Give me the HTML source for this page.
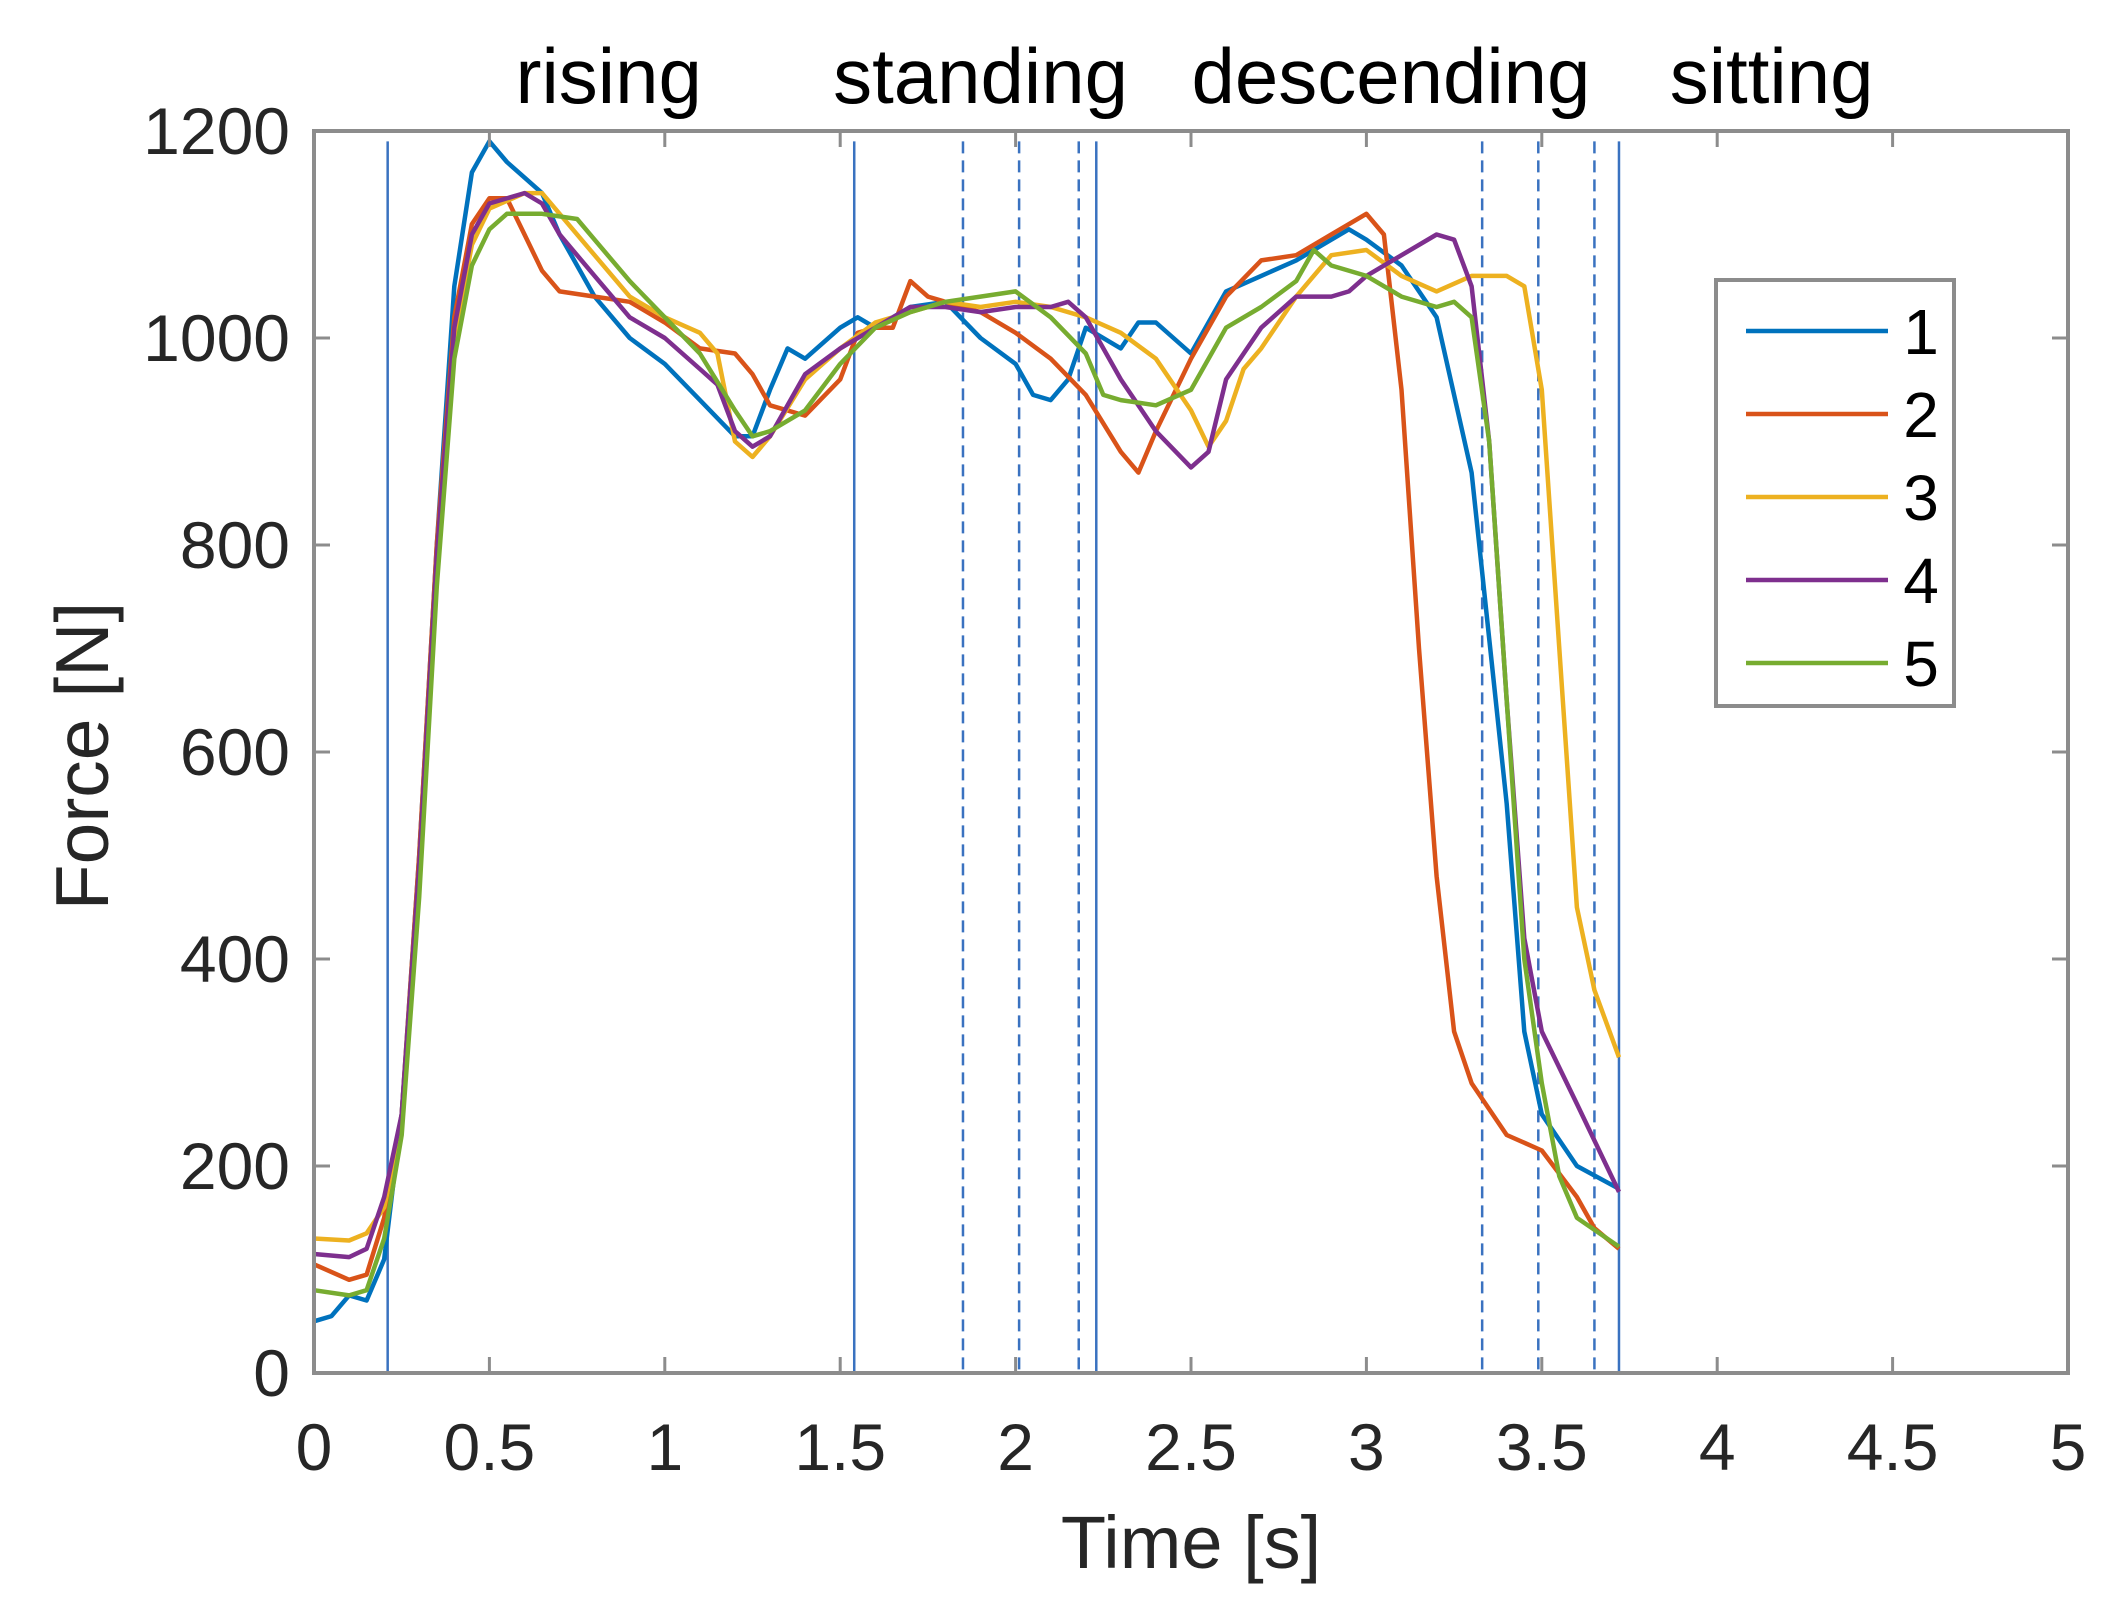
<!DOCTYPE html>
<html><head><meta charset="utf-8"><style>
html,body{margin:0;padding:0;background:#fff}
svg{display:block}
text{font-family:"Liberation Sans",sans-serif}
</style></head><body>
<svg id="chart" width="2111" height="1617" viewBox="0 0 2111 1617" xmlns="http://www.w3.org/2000/svg">
<g id="grid"></g>
<g id="marks"></g>
<g id="axes"></g>
</svg>
<script>
const xTicks=[0,0.5,1,1.5,2,2.5,3,3.5,4,4.5,5];
const xTickLabels=["0","0.5","1","1.5","2","2.5","3","3.5","4","4.5","5"];
const yTicks=[0,200,400,600,800,1000,1200];
const yTickLabels=["0","200","400","600","800","1000","1200"];
const phaseLabels=["rising","standing","descending","sitting"];
const phaseCenters=[0.84,1.9,3.07,4.155];
const solidEvents=[0.21,1.54,2.23,3.72];
const dashedEvents=[1.85,2.01,2.18,3.33,3.49,3.65];
const seriesNames=["1","2","3","4","5"];
const t1=[0,0.05,0.1,0.15,0.2,0.25,0.3,0.35,0.4,0.45,0.5,0.55,0.6,0.65,0.7,0.8,0.9,1.0,1.1,1.2,1.25,1.3,1.35,1.4,1.5,1.55,1.6,1.7,1.8,1.9,2.0,2.05,2.1,2.15,2.2,2.3,2.35,2.4,2.5,2.6,2.7,2.8,2.9,2.95,3.0,3.1,3.2,3.3,3.4,3.45,3.5,3.6,3.72];
const v1=[50,55,75,70,110,250,500,800,1050,1160,1190,1170,1155,1140,1100,1040,1000,975,940,905,905,950,990,980,1010,1020,1010,1030,1035,1000,975,945,940,960,1010,990,1015,1015,985,1045,1060,1075,1095,1105,1095,1070,1020,870,550,330,250,200,178];
const t2=[0,0.1,0.15,0.2,0.25,0.3,0.35,0.4,0.45,0.5,0.55,0.6,0.65,0.7,0.8,0.9,1.0,1.1,1.2,1.25,1.3,1.4,1.5,1.55,1.6,1.65,1.7,1.75,1.8,1.9,2.0,2.1,2.2,2.3,2.35,2.4,2.5,2.6,2.7,2.8,2.9,3.0,3.05,3.1,3.15,3.2,3.25,3.3,3.4,3.5,3.6,3.65,3.72];
const v2=[105,90,95,150,250,500,800,1020,1110,1135,1135,1100,1065,1045,1040,1035,1015,990,985,965,935,925,960,1005,1010,1010,1055,1040,1035,1025,1005,980,945,890,870,910,980,1040,1075,1080,1100,1120,1100,950,700,480,330,280,230,215,170,140,120];
const t3=[0,0.1,0.15,0.2,0.25,0.3,0.35,0.4,0.45,0.5,0.6,0.65,0.7,0.8,0.9,1.0,1.1,1.15,1.2,1.25,1.3,1.4,1.5,1.6,1.7,1.8,1.9,2.0,2.1,2.2,2.3,2.4,2.5,2.55,2.6,2.65,2.7,2.8,2.9,3.0,3.1,3.2,3.3,3.4,3.45,3.5,3.55,3.6,3.65,3.72];
const v3=[130,128,135,160,240,480,780,1000,1090,1125,1140,1140,1120,1080,1040,1020,1005,985,900,885,905,960,990,1015,1025,1035,1030,1035,1030,1020,1005,980,930,895,920,970,990,1040,1080,1085,1060,1045,1060,1060,1050,950,700,450,370,305];
const t4=[0,0.1,0.15,0.2,0.25,0.3,0.35,0.4,0.45,0.5,0.6,0.65,0.7,0.8,0.9,1.0,1.1,1.15,1.2,1.25,1.3,1.4,1.5,1.6,1.7,1.8,1.9,2.0,2.1,2.15,2.2,2.3,2.4,2.5,2.55,2.6,2.7,2.8,2.9,2.95,3.0,3.1,3.2,3.25,3.3,3.35,3.4,3.45,3.5,3.6,3.72];
const v4=[115,112,120,170,250,490,790,1010,1100,1130,1140,1130,1100,1060,1020,1000,970,955,910,895,905,965,990,1010,1030,1030,1025,1030,1030,1035,1020,960,910,875,890,960,1010,1040,1040,1045,1060,1080,1100,1095,1050,900,650,420,330,260,175];
const t5=[0,0.1,0.15,0.2,0.25,0.3,0.35,0.4,0.45,0.5,0.55,0.65,0.75,0.8,0.9,1.0,1.1,1.2,1.25,1.3,1.4,1.5,1.6,1.7,1.8,1.9,2.0,2.1,2.2,2.25,2.3,2.4,2.5,2.6,2.7,2.8,2.85,2.9,3.0,3.1,3.2,3.25,3.3,3.35,3.4,3.45,3.5,3.55,3.6,3.72];
const v5=[80,75,80,130,230,460,760,980,1070,1105,1120,1120,1115,1095,1055,1020,985,930,905,910,930,975,1010,1025,1035,1040,1045,1020,985,945,940,935,950,1010,1030,1055,1085,1070,1060,1040,1030,1035,1020,900,650,400,280,190,150,122];
const seriesT=[t1,t2,t3,t4,t5];
const seriesV=[v1,v2,v3,v4,v5];
const colors=["#0072BD","#D95319","#EDB120","#7E2F8E","#77AC30"];

const L=314,R=2068,T=131,B=1373;
const X=v=>L+(v-0)/(5-0)*(R-L);
const Y=v=>B-(v-0)/(1200-0)*(B-T);
const NS="http://www.w3.org/2000/svg";
function mk(tag,attrs,parent){const e=document.createElementNS(NS,tag);for(const k in attrs)e.setAttribute(k,attrs[k]);parent.appendChild(e);return e;}
const marks=document.getElementById('marks'),axes=document.getElementById('axes'),grid=document.getElementById('grid');

solidEvents.forEach(v=>{
  const l=mk('line',{x1:X(v),x2:X(v),y1:Y(1190),y2:B,stroke:"#3a72c0","stroke-width":2.5},grid);
  
  
});
dashedEvents.forEach(v=>{
  const l=mk('line',{x1:X(v),x2:X(v),y1:Y(1190),y2:B,stroke:"#3a72c0","stroke-width":2.5,"stroke-dasharray":"12,7"},grid);
  
  
});

seriesT.forEach((ts,i)=>{
  const pts=ts.map((t,j)=>X(t).toFixed(1)+","+Y(seriesV[i][j]).toFixed(1)).join(" ");
  const p=mk('polyline',{points:pts,fill:"none",stroke:colors[i],"stroke-width":4.5,"stroke-linejoin":"round"},marks);
  
  
});

const frame=mk('rect',{x:L,y:T,width:R-L,height:B-T,fill:"none",stroke:"#8c8c8c","stroke-width":4},axes);



xTicks.forEach((v,i)=>{
  mk('line',{x1:X(v),x2:X(v),y1:B,y2:B-16,stroke:"#8c8c8c","stroke-width":3},axes);
  mk('line',{x1:X(v),x2:X(v),y1:T,y2:T+16,stroke:"#8c8c8c","stroke-width":3},axes);
  const t=mk('text',{x:X(v),y:1470,"text-anchor":"middle","font-size":66,fill:"#262626"},axes);
  t.textContent=xTickLabels[i];
  
  
});
yTicks.forEach((v,i)=>{
  mk('line',{x1:L,x2:L+16,y1:Y(v),y2:Y(v),stroke:"#8c8c8c","stroke-width":3},axes);
  mk('line',{x1:R,x2:R-16,y1:Y(v),y2:Y(v),stroke:"#8c8c8c","stroke-width":3},axes);
  const t=mk('text',{x:290,y:Y(v)+23,"text-anchor":"end","font-size":66,fill:"#262626"},axes);
  t.textContent=yTickLabels[i];
  
  
});
phaseLabels.forEach((s,i)=>{
  const t=mk('text',{x:X(phaseCenters[i]),y:103,"text-anchor":"middle","font-size":78,fill:"#000"},axes);
  t.textContent=s;
  
  
});
const xt=mk('text',{x:1191,y:1568,"text-anchor":"middle","font-size":74,fill:"#262626"},axes);
xt.textContent="Time [s]";


const yt=mk('text',{x:0,y:0,"text-anchor":"middle","font-size":75,fill:"#262626",transform:"translate(108,756) rotate(-90)"},axes);
yt.textContent="Force [N]";



const lg=mk('g',{},axes);


mk('rect',{x:1716,y:280,width:238,height:426,fill:"#fff",stroke:"#8c8c8c","stroke-width":4},lg);
seriesNames.forEach((n,i)=>{
  const y=331+i*83;
  const ln=mk('line',{x1:1746,x2:1888,y1:y,y2:y,stroke:colors[i],"stroke-width":4.5},lg);
  
  
  const t=mk('text',{x:1921,y:y+23,"text-anchor":"middle","font-size":64,fill:"#000"},lg);
  t.textContent=n;
  
  
});
</script>
</body></html>
